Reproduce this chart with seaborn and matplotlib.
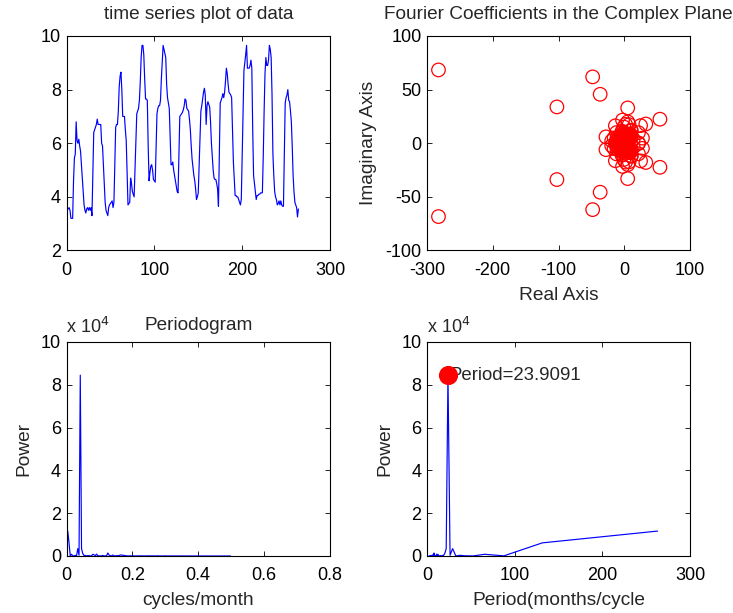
import numpy as np
import pandas as pd
import matplotlib
matplotlib.use("Agg")
import matplotlib.pyplot as plt
from matplotlib.ticker import FuncFormatter
import seaborn as sns

# ---- data: monthly series (264 months) ----
series = [
    3.55, 3.55, 3.60, 3.50, 3.20, 3.20, 3.20, 4.60, 5.45, 5.60, 6.80, 6.10,
    6.00, 6.15, 5.90, 5.70, 5.20, 4.70, 4.20, 3.70, 3.50, 3.40, 3.55, 3.60,
    3.50, 3.60, 3.50, 3.60, 3.30, 4.90, 6.40, 6.50, 6.60, 6.70, 6.90, 6.70,
    6.70, 6.70, 6.70, 6.00, 5.90, 5.20, 4.50, 3.80, 3.50, 3.40, 3.30, 3.60,
    3.70, 3.75, 3.80, 3.85, 3.60, 3.80, 5.20, 6.60, 6.70, 6.70, 7.20, 8.10,
    8.50, 8.65, 8.00, 7.00, 7.00, 7.00, 6.50, 6.10, 4.90, 3.70, 3.75, 3.80,
    4.70, 4.50, 4.20, 4.10, 4.00, 5.00, 6.00, 7.10, 7.20, 7.30, 7.60, 8.30,
    9.20, 9.65, 9.65, 9.30, 8.40, 7.65, 7.65, 7.60, 5.90, 4.60, 4.90, 5.15,
    5.20, 5.00, 4.65, 4.60, 4.55, 5.80, 7.10, 7.30, 7.40, 7.40, 7.60, 8.40,
    9.00, 9.65, 9.50, 9.35, 9.20, 8.20, 7.70, 7.50, 7.30, 6.20, 5.20, 5.20,
    5.30, 5.00, 4.80, 4.60, 4.40, 4.20, 4.15, 5.60, 7.00, 7.05, 7.10, 7.15,
    7.25, 7.40, 7.65, 7.60, 7.30, 7.25, 7.20, 6.90, 6.50, 5.90, 5.40, 5.10,
    4.80, 4.60, 4.30, 3.90, 4.00, 4.15, 5.20, 6.30, 7.20, 7.40, 7.65, 7.90,
    8.05, 7.80, 6.70, 7.40, 7.55, 7.45, 7.35, 6.80, 6.00, 5.50, 5.00, 4.70,
    4.65, 4.65, 4.50, 4.30, 3.65, 5.50, 7.50, 7.60, 7.70, 7.85, 7.70, 7.90,
    8.30, 8.80, 8.60, 8.20, 7.90, 7.85, 7.80, 7.70, 6.50, 5.30, 4.70, 4.05,
    4.05, 4.00, 4.00, 3.90, 3.80, 3.70, 3.90, 5.50, 7.30, 8.70, 9.00, 9.30,
    9.65, 8.80, 8.80, 8.80, 8.90, 9.10, 8.80, 6.50, 4.80, 4.50, 4.20, 3.90,
    4.05, 4.05, 4.10, 4.10, 4.15, 4.15, 4.15, 5.50, 7.20, 8.60, 9.20, 8.90,
    8.90, 9.10, 9.65, 9.50, 9.20, 7.80, 5.60, 4.80, 4.20, 4.00, 3.90, 3.70,
    3.75, 3.85, 3.70, 3.85, 3.70, 3.65, 3.65, 5.50, 7.50, 7.70, 7.80, 8.00,
    7.60, 7.55, 7.20, 6.80, 5.90, 4.80, 4.20, 3.80, 3.70, 3.60, 3.25, 3.55,
]
months = list(range(1, len(series) + 1))

titles = ["time series plot of data", "Fourier Coefficients in the Complex Plane",
          "Periodogram", ""]
xlabels = ["", "Real Axis", "cycles/month", "Period(months/cycle"]
ylabels = ["", "Imaginary Axis", "Power", "Power"]

ts_xticks = [0, 100, 200, 300]
ts_yticks = [2, 4, 6, 8, 10]
fc_xticks = [-300, -200, -100, 0, 100]
fc_yticks = [-100, -50, 0, 50, 100]
pg_xticks = [0, 0.2, 0.4, 0.6, 0.8]
pg_xticklabels = ["0", "0.2", "0.4", "0.6", "0.8"]
pw_yticks = [0, 20000, 40000, 60000, 80000, 100000]
pd_xticks = [0, 100, 200, 300]

# ---- derived spectra (same steps as the original analysis) ----
Y = np.fft.fft(np.asarray(series, dtype=float))
Y = Y[1:]
n = len(Y)
power = np.abs(Y[: n // 2]) ** 2
nyquist = 0.5
freq = np.arange(1, n // 2 + 1) / (n / 2) * nyquist
period = 1.0 / freq
imax = int(np.argmax(power))
per_max = period[imax]

df_ts = pd.DataFrame({"month": months, "value": series})
df_fc = pd.DataFrame({"re": Y.real, "im": Y.imag})
df_pg = pd.DataFrame({"freq": freq, "power": power})
df_pd = pd.DataFrame({"period": period, "power": power})

# ---- style ----
sns.set_style("ticks")
plt.rcParams["font.family"] = ["Liberation Sans", "DejaVu Sans"]
plt.rcParams.update({
    "axes.unicode_minus": False,
    "xtick.direction": "in", "ytick.direction": "in",
    "xtick.top": True, "ytick.right": True,
    "xtick.major.size": 3.5, "ytick.major.size": 3.5,
    "xtick.major.width": 0.6, "ytick.major.width": 0.6,
    "axes.linewidth": 0.8, "axes.edgecolor": "black",
    "xtick.color": "black", "ytick.color": "black",
    "xtick.labelsize": 13, "ytick.labelsize": 13,
})

W, H = 733, 613
fig = plt.figure(figsize=(W / 100, H / 100), dpi=100)
fig.patch.set_facecolor("white")

def box(l, t, r, b):
    return [l / W, 1 - b / H, (r - l) / W, (b - t) / H]

ax1 = fig.add_axes(box(66.5, 36, 330, 250.5))
ax2 = fig.add_axes(box(427, 36, 690, 250.5))
ax3 = fig.add_axes(box(66.5, 342, 330, 556))
ax4 = fig.add_axes(box(427, 342, 690, 556))

blue = (0, 0, 1)
red = (1, 0, 0)

sns.lineplot(data=df_ts, x="month", y="value", ax=ax1, color=blue, lw=0.85,
             estimator=None, sort=False)
ax1.set_xlim(0, 300); ax1.set_ylim(2, 10)
ax1.set_xticks(ts_xticks); ax1.set_yticks(ts_yticks)

sns.scatterplot(data=df_fc, x="re", y="im", ax=ax2, marker="o", s=95,
                fc="none", ec=red, linewidth=0.9)
ax2.set_xlim(-300, 100); ax2.set_ylim(-100, 100)
ax2.set_xticks(fc_xticks); ax2.set_yticks(fc_yticks)

sns.lineplot(data=df_pg, x="freq", y="power", ax=ax3, color=blue, lw=0.85,
             estimator=None, sort=False)
ax3.set_xlim(0, 0.8); ax3.set_ylim(0, 100000)
ax3.set_xticks(pg_xticks); ax3.set_xticklabels(pg_xticklabels)
ax3.set_yticks(pw_yticks)

sns.lineplot(data=df_pd, x="period", y="power", ax=ax4, color=blue, lw=0.85,
             estimator=None, sort=False)
sns.scatterplot(x=[per_max], y=[power[imax]], ax=ax4, color=red, s=190,
                linewidth=0, zorder=5)
ax4.text(per_max + 2, power[imax], "Period=" + f"{per_max:.6g}", fontsize=13.4,
         va="center", ha="left")
ax4.set_xlim(0, 300); ax4.set_ylim(0, 100000)
ax4.set_xticks(pd_xticks); ax4.set_yticks(pw_yticks)

fmt = FuncFormatter(lambda v, p: f"{v / 1e4:g}")
for ax in (ax3, ax4):
    ax.yaxis.set_major_formatter(fmt)
    ax.text(0, 1.025, r"x 10$^{4}$", transform=ax.transAxes, fontsize=13,
            ha="left", va="bottom")

for i, (ax, t, xl, yl) in enumerate(zip((ax1, ax2, ax3, ax4), titles, xlabels, ylabels)):
    ax.set_title(t, fontsize=13.7, pad=12 if i < 2 else 9)
    ax.set_xlabel(xl, fontsize=13.8, labelpad=6)
    ax.set_ylabel(yl, fontsize=13.8, labelpad=6)
    ax.tick_params(axis="x", pad=8)
    ax.tick_params(axis="y", pad=4)
    for s in ax.spines.values():
        s.set_visible(True)

fig.savefig("out.png", dpi=100, facecolor="white")
